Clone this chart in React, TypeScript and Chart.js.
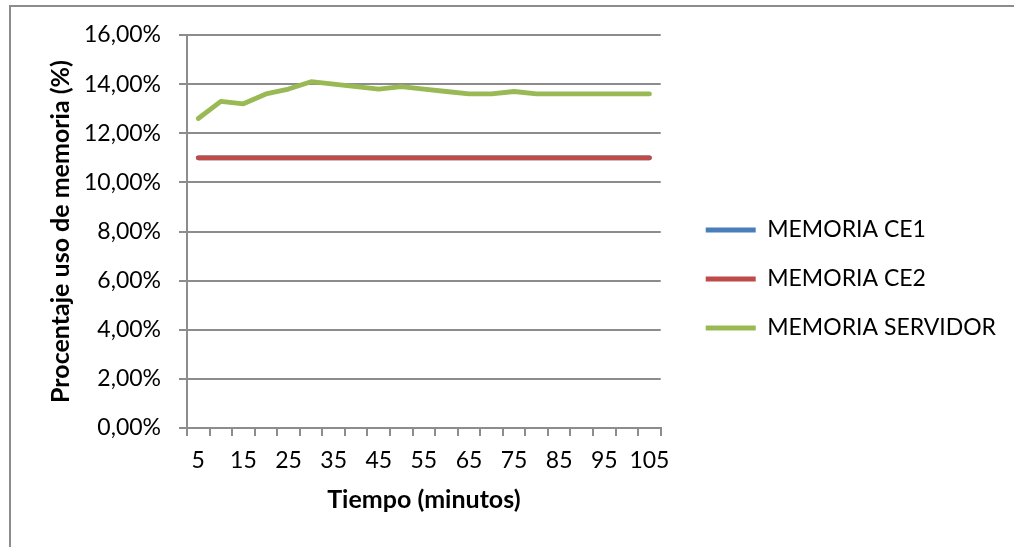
import React, { useEffect, useRef } from "react";
import { Chart, registerables } from "chart.js";

Chart.register(...registerables);

const minutes = ["5","10","15","20","25","30","35","40","45","50","55","60","65","70","75","80","85","90","95","100","105"];
const ce1 = [11,11,11,11,11,11,11,11,11,11,11,11,11,11,11,11,11,11,11,11,11];
const ce2 = [11,11,11,11,11,11,11,11,11,11,11,11,11,11,11,11,11,11,11,11,11];
const servidor = [12.6,13.3,13.2,13.6,13.8,14.1,14.0,13.9,13.8,13.9,13.8,13.7,13.6,13.6,13.7,13.6,13.6,13.6,13.6,13.6,13.6];
const seriesNames = ["MEMORIA CE1", "MEMORIA CE2", "MEMORIA SERVIDOR"];
const seriesColors = ["#4a7ebb", "#be4b48", "#98b954"];

const FONT = "Lato";
const GRID = "#8c8c8c";

export default function App() {
  const ref = useRef<HTMLCanvasElement | null>(null);

  useEffect(() => {
    if (!ref.current) return;
    const values = [ce1, ce2, servidor];
    const orders = [3, 1, 2];
    const chart = new Chart(ref.current, {
      type: "line",
      data: {
        labels: minutes,
        datasets: values.map((v, i) => ({
          label: seriesNames[i],
          data: v,
          borderColor: seriesColors[i],
          backgroundColor: seriesColors[i],
          borderWidth: 4.8,
          borderCapStyle: "round" as const,
          borderJoinStyle: "round" as const,
          pointRadius: 0,
          pointHoverRadius: 0,
          tension: 0,
          fill: false,
          order: orders[i],
        })),
      },
      options: {
        responsive: false,
        animation: false,
        events: [],
        layout: { padding: { left: 40, top: 35, right: 8, bottom: 24 } },
        plugins: {
          tooltip: { enabled: false },
          legend: {
            position: "right",
            maxWidth: 400,
            labels: {
              color: "#000",
              font: { family: FONT, size: 23 },
              boxWidth: 50,
              boxHeight: 5,
              padding: 26,
              generateLabels: (c: any) =>
                c.data.datasets.map((d: any, i: number) => ({
                  text: d.label,
                  fillStyle: d.borderColor,
                  strokeStyle: d.borderColor,
                  lineWidth: 0,
                  hidden: false,
                  datasetIndex: i,
                  fontColor: "#000",
                })),
            },
          },
        },
        scales: {
          x: {
            type: "category",
            offset: true,
            grid: {
              offset: true,
              drawOnChartArea: false,
              drawTicks: true,
              tickLength: 8,
              color: GRID,
              lineWidth: 2,
            },
            border: { display: true, color: GRID, width: 2 },
            ticks: {
              autoSkip: false,
              maxRotation: 0,
              minRotation: 0,
              color: "#000",
              font: { family: FONT, size: 23 },
              padding: 11,
              callback: (_v: any, idx: number) => (idx % 2 === 0 ? minutes[idx] : ""),
            },
            title: {
              display: true,
              text: "Tiempo (minutos)",
              color: "#000",
              font: { family: FONT, size: 25, weight: "bold" },
              padding: { top: 0, bottom: 8 },
            },
            afterFit: (s: any) => {
              s.height = 95;
            },
          },
          y: {
            min: 0,
            max: 16,
            ticks: {
              stepSize: 2,
              color: "#000",
              font: { family: FONT, size: 23 },
              padding: 18,
              callback: (v: any) => Number(v).toFixed(2).replace(".", ",") + "%",
            },
            grid: { color: GRID, lineWidth: 2, tickLength: 8 },
            border: { display: true, color: GRID, width: 2 },
            title: {
              display: true,
              text: "Procentaje uso de memoria (%)",
              color: "#000",
              font: { family: FONT, size: 25, weight: "bold" },
              padding: { top: 6, bottom: 0 },
            },
            afterFit: (s: any) => {
              s.width = 147;
            },
          },
          spacer: {
            type: "linear",
            position: "right",
            display: true,
            grid: { display: false, drawTicks: false },
            border: { display: false },
            ticks: { display: false },
            afterFit: (s: any) => {
              s.width = 19;
            },
          },
        },
      } as any,
    });
    return () => chart.destroy();
  }, []);

  return (
    <div
      style={{
        position: "fixed",
        left: 0,
        top: 0,
        width: 1014,
        height: 547,
        overflow: "hidden",
        background: "#fff",
      }}
    >
      <div
        style={{
          position: "absolute",
          left: 9,
          top: 5,
          width: 1200,
          height: 800,
          borderLeft: "2px solid #8c8c8c",
          borderTop: "2px solid #8c8c8c",
        }}
      />
      <canvas
        ref={ref}
        width={1014}
        height={547}
        style={{ position: "absolute", left: 0, top: 0, width: 1014, height: 547 }}
      />
    </div>
  );
}
